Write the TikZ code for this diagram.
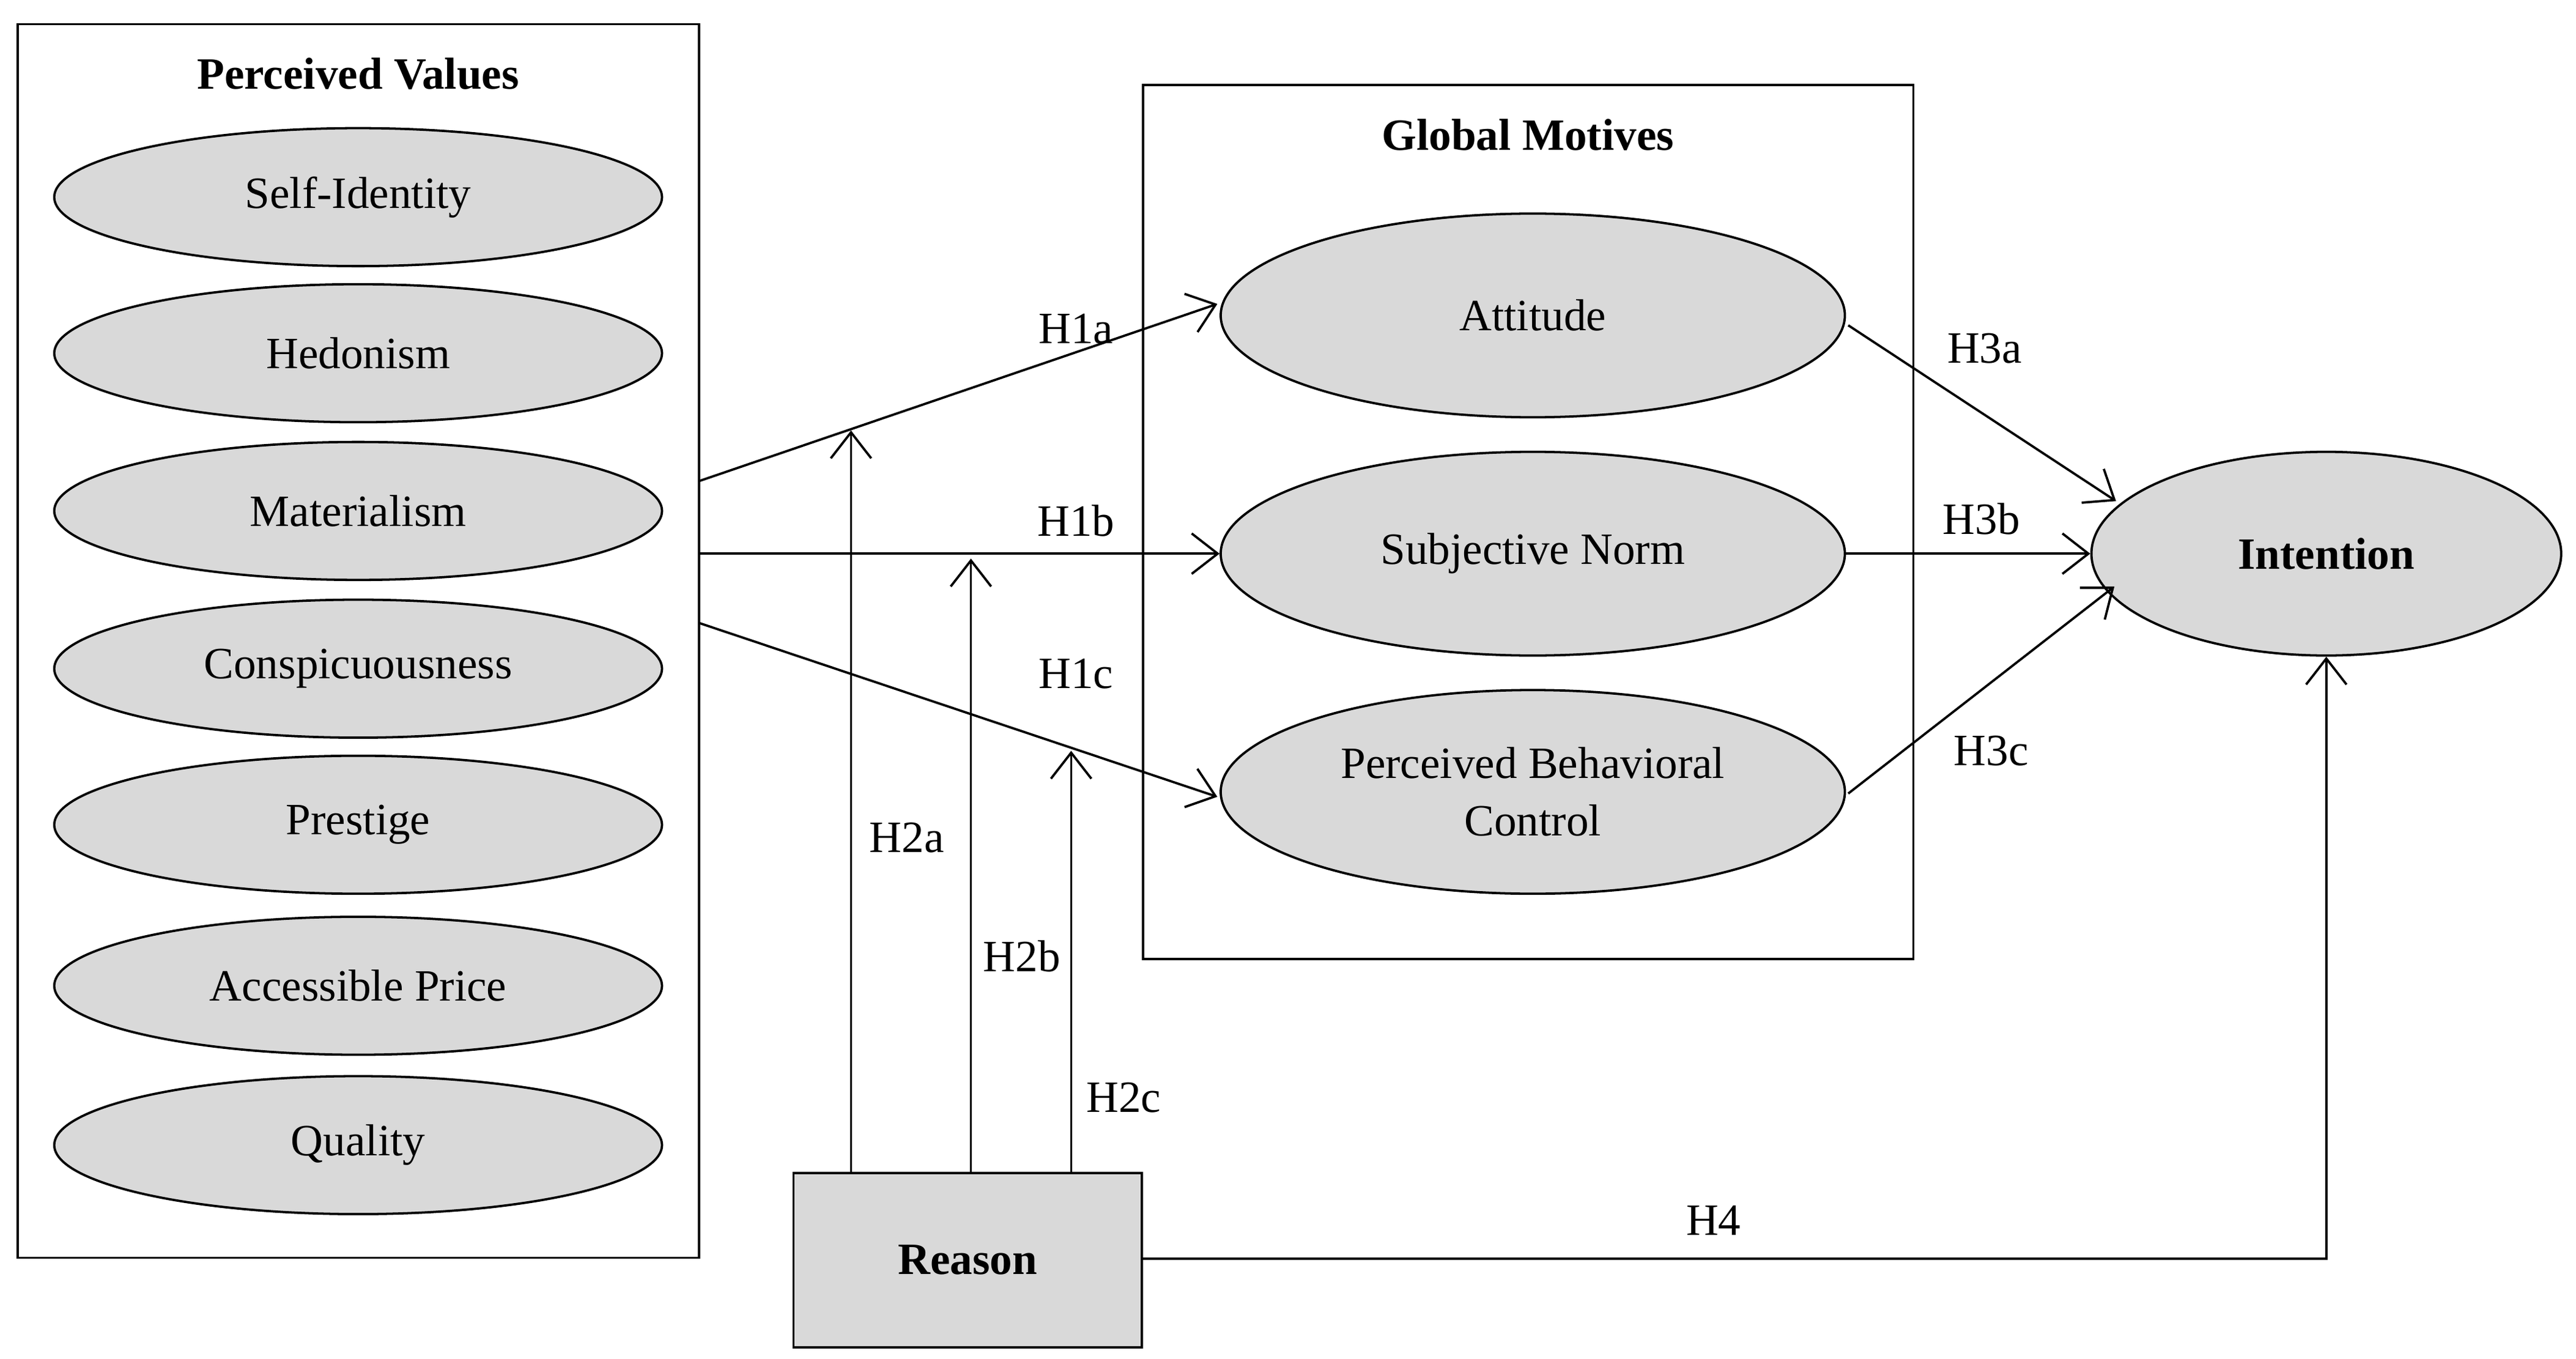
\documentclass[tikz,border=0pt]{standalone}
\usepackage{fontspec}
\setmainfont{Liberation Serif}
\usetikzlibrary{arrows.meta,shapes.geometric}
\definecolor{gfill}{HTML}{D9D9D9}
\begin{document}
\begin{tikzpicture}[x=0.02cm,y=-0.02cm,
  font=\fontsize{15.5}{18}\selectfont,
  val/.style={ellipse,draw,fill=gfill,line width=0.8pt,minimum width=7.4cm,minimum height=1.68cm,inner sep=0pt},
  mot/.style={ellipse,draw,fill=gfill,line width=0.8pt,minimum width=7.6cm,minimum height=2.48cm,inner sep=0pt,align=center},
  arr/.style={line width=0.8pt,-{Straight Barb[length=9pt,width=14pt]}},
  lbl/.style={inner sep=0pt}]
\useasboundingbox (0,0) rectangle (1568,827);
\node[draw,line width=0.8pt,minimum width=8.3cm,minimum height=15.02cm,anchor=north west] (pv) at (10,14) {};
\node[font=\fontsize{15.5}{18}\selectfont\bfseries] (pvt) at (218,45) {Perceived Values};
\node[val] (v1) at (218,120) {Self-Identity};
\node[val] (v2) at (218,215) {Hedonism};
\node[val] (v3) at (218,311) {Materialism};
\node[val] (v4) at (218,407) {Conspicuousness};
\node[val] (v5) at (218,502) {Prestige};
\node[val] (v6) at (218,600) {Accessible Price};
\node[val] (v7) at (218,697) {Quality};
\node[draw,line width=0.8pt,minimum width=9.38cm,minimum height=10.64cm,anchor=north west] (gm) at (695,51) {};
\node[font=\fontsize{15.5}{18}\selectfont\bfseries] (gmt) at (930,82) {Global Motives};
\node[mot] (att) at (933,192) {Attitude};
\node[mot] (sn) at (933,337) {Subjective Norm};
\node[mot] (pbc) at (933,482) {Perceived Behavioral\\[2pt]Control};
\node[mot,minimum width=5.72cm,font=\fontsize{15.5}{18}\selectfont\bfseries] (int) at (1416,337) {Intention};
\node[draw,fill=gfill,line width=0.8pt,minimum width=4.24cm,minimum height=2.12cm,font=\fontsize{15.5}{18}\selectfont\bfseries] (rs) at (589,767) {Reason};
\coordinate (s1) at (425,293);
\coordinate (s2) at (425,337);
\coordinate (s3) at (425,379);
\coordinate (e1) at (741,185);
\coordinate (e3) at (741,485);
\draw[arr] (s1) -- (e1);
\draw[arr] (s2) -- (sn.west);
\draw[arr] (s3) -- (e3);
\coordinate (r1) at (518,714); \coordinate (t1) at (518,262);
\coordinate (r2) at (591,714); \coordinate (t2) at (591,340);
\coordinate (r3) at (652,714); \coordinate (t3) at (652,457);
\draw[arr] (r1) -- (t1);
\draw[arr] (r2) -- (t2);
\draw[arr] (r3) -- (t3);
\coordinate (a1) at (1125,198); \coordinate (b1) at (1288,305);
\coordinate (a3) at (1125,483); \coordinate (b3) at (1287,357);
\draw[arr] (a1) -- (b1);
\draw[arr] (sn.east) -- (int.west);
\draw[arr] (a3) -- (b3);
\coordinate (h4) at (695,766);
\draw[arr] (h4) -| (int.south);
\node[lbl] (l1) at (655,200) {H1a};
\node[lbl] (l2) at (655,317) {H1b};
\node[lbl] (l3) at (655,410) {H1c};
\node[lbl] (l4) at (552,510) {H2a};
\node[lbl] (l5) at (622,582) {H2b};
\node[lbl] (l6) at (684,668) {H2c};
\node[lbl] (l7) at (1208,212) {H3a};
\node[lbl] (l8) at (1206,316) {H3b};
\node[lbl] (l9) at (1212,457) {H3c};
\node[lbl] (l10) at (1043,743) {H4};
\end{tikzpicture}
\end{document}
